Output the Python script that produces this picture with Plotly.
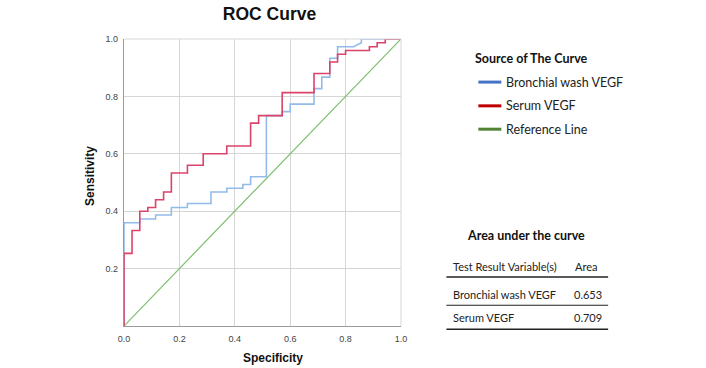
import plotly.graph_objects as go

# ---------------- data ----------------
bronchial_x = [0, 0, 0.057, 0.057, 0.114, 0.114, 0.171, 0.171, 0.229, 0.229, 0.314, 0.314,
               0.371, 0.371, 0.429, 0.429, 0.457, 0.457, 0.514, 0.514, 0.571, 0.571, 0.6, 0.6,
               0.686, 0.686, 0.714, 0.714, 0.743, 0.743, 0.771, 0.771, 0.829, 0.857, 0.857, 1]
bronchial_y = [0, 0.36, 0.36, 0.373, 0.373, 0.387, 0.387, 0.413, 0.413, 0.427, 0.427, 0.467,
               0.467, 0.48, 0.48, 0.493, 0.493, 0.52, 0.52, 0.733, 0.733, 0.747, 0.747, 0.773,
               0.773, 0.827, 0.827, 0.867, 0.867, 0.933, 0.933, 0.973, 0.973, 0.987, 1, 1]

serum_x = [0, 0, 0.029, 0.029, 0.057, 0.057, 0.086, 0.086, 0.114, 0.114, 0.143, 0.143,
           0.171, 0.171, 0.229, 0.229, 0.286, 0.286, 0.371, 0.371, 0.457, 0.457, 0.486, 0.486,
           0.571, 0.571, 0.686, 0.686, 0.743, 0.743, 0.771, 0.771, 0.8, 0.8, 0.886, 0.886,
           0.914, 0.914, 0.943, 0.943, 1]
serum_y = [0, 0.253, 0.253, 0.333, 0.333, 0.4, 0.4, 0.413, 0.413, 0.44, 0.44, 0.467,
           0.467, 0.533, 0.533, 0.56, 0.56, 0.6, 0.6, 0.627, 0.627, 0.707, 0.707, 0.733,
           0.733, 0.813, 0.813, 0.88, 0.88, 0.92, 0.92, 0.947, 0.947, 0.96, 0.96, 0.973,
           0.973, 0.987, 0.987, 1, 1]

reference_x = [0, 1]
reference_y = [0, 1]

series_names = ["Bronchial wash VEGF", "Serum VEGF", "Reference Line"]
x_tick_vals = [0, 0.2, 0.4, 0.6, 0.8, 1.0]
x_tick_text = ["0.0", "0.2", "0.4", "0.6", "0.8", "1.0"]
y_tick_vals = [0.2, 0.4, 0.6, 0.8, 1.0]
y_tick_text = ["0.2", "0.4", "0.6", "0.8", "1.0"]

table_header = ["Test Result Variable(s)", "Area"]
table_rows = ["Bronchial wash VEGF", "Serum VEGF"]
table_areas = ["0.653", "0.709"]

# ---------------- styles ----------------
curve_colors = ["#93bbea", "#dc4369", "#7dbf6c"]
legend_colors = ["#4472c4", "#c00000", "#548235"]
FONT = "Liberation Sans, Arial, sans-serif"
SIDE_FONT = "Lato, Liberation Sans, sans-serif"

fig = go.Figure()
fig.add_trace(go.Scatter(x=reference_x, y=reference_y, mode="lines",
                         line=dict(color=curve_colors[2], width=1.2),
                         name=series_names[2], showlegend=False, hoverinfo="skip"))
fig.add_trace(go.Scatter(x=bronchial_x, y=bronchial_y, mode="lines",
                         line=dict(color=curve_colors[0], width=1.6),
                         name=series_names[0], showlegend=False))
fig.add_trace(go.Scatter(x=serum_x, y=serum_y, mode="lines",
                         line=dict(color=curve_colors[1], width=1.6),
                         name=series_names[1], showlegend=False))

W, H = 706, 368
PL, PR, PT, PB = 124, 401.5, 39.3, 325.7   # plot area in pixels
L, R, T, B = PL, W - PR, PT, H - PB


def px_x(px):
    return (px - PL) / (PR - PL)


def px_y(py):
    return (PB - py) / (PB - PT)


fig.update_layout(
    width=W, height=H,
    margin=dict(l=L, r=R, t=T, b=B, pad=0),
    paper_bgcolor="white", plot_bgcolor="white",
    font=dict(family=FONT, color="#333333"),
    title=dict(text="<b>ROC Curve</b>", x=269.5 / W, xanchor="center",
               y=1 - 13.5 / H, yanchor="middle",
               font=dict(size=17.5, color="#111111", family=FONT)),
    xaxis=dict(range=[0, 1], tickvals=x_tick_vals, ticktext=x_tick_text,
               showgrid=True, gridcolor="#d6d6d6", gridwidth=1,
               showline=True, linecolor="#9a9a9a", linewidth=1.2,
               zeroline=False, ticks="", ticklabelstandoff=4,
               tickfont=dict(size=9, color="#444444")),
    yaxis=dict(range=[0, 1], tickvals=y_tick_vals, ticktext=y_tick_text,
               showgrid=True, gridcolor="#d6d6d6", gridwidth=1,
               showline=True, linecolor="#9a9a9a", linewidth=1.2,
               zeroline=False, ticks="", ticklabelstandoff=3,
               tickfont=dict(size=9, color="#444444")),
)

# axis titles
fig.add_annotation(xref="paper", yref="paper", x=px_x(273), y=px_y(357.5),
                   xanchor="center", yanchor="middle", showarrow=False,
                   text="<b>Specificity</b>", font=dict(size=12, color="#111111", family=FONT))
fig.add_annotation(xref="paper", yref="paper", x=px_x(90), y=px_y(176),
                   xanchor="center", yanchor="middle", showarrow=False, textangle=-90,
                   text="<b>Sensitivity</b>", font=dict(size=12, color="#111111", family=FONT))

# top / right borders of plot (light gray like grid)
fig.add_shape(type="line", xref="paper", yref="paper", x0=0, x1=1, y0=1, y1=1,
              line=dict(color="#d6d6d6", width=1))
fig.add_shape(type="line", xref="paper", yref="paper", x0=1, x1=1, y0=0, y1=1,
              line=dict(color="#d6d6d6", width=1))

# ---------------- legend (custom) ----------------
fig.add_annotation(xref="paper", yref="paper", x=px_x(474), y=px_y(59),
                   xanchor="left", yanchor="middle", showarrow=False,
                   text="<b>Source of The Curve</b>",
                   font=dict(size=12.5, color="#111111", family=SIDE_FONT))
legend_ys = [82.3, 106, 129.3]
for name, col, ly in zip(series_names, legend_colors, legend_ys):
    fig.add_shape(type="line", xref="paper", yref="paper",
                  x0=px_x(479), x1=px_x(502), y0=px_y(ly), y1=px_y(ly),
                  line=dict(color=col, width=3))
    fig.add_annotation(xref="paper", yref="paper", x=px_x(505), y=px_y(ly),
                       xanchor="left", yanchor="middle", showarrow=False,
                       text=name, font=dict(size=12.5, color="#222222", family=SIDE_FONT))

# ---------------- table (custom) ----------------
fig.add_annotation(xref="paper", yref="paper", x=px_x(527), y=px_y(235),
                   xanchor="center", yanchor="middle", showarrow=False,
                   text="<b>Area under the curve</b>",
                   font=dict(size=12.5, color="#111111", family=SIDE_FONT))
fig.add_annotation(xref="paper", yref="paper", x=px_x(451.5), y=px_y(266),
                   xanchor="left", yanchor="middle", showarrow=False,
                   text=table_header[0], font=dict(size=11, color="#222222", family=SIDE_FONT))
fig.add_annotation(xref="paper", yref="paper", x=px_x(600), y=px_y(266),
                   xanchor="right", yanchor="middle", showarrow=False,
                   text=table_header[1], font=dict(size=11, color="#222222", family=SIDE_FONT))
row_ys = [294, 317.3]
for rname, area, ry in zip(table_rows, table_areas, row_ys):
    fig.add_annotation(xref="paper", yref="paper", x=px_x(451.5), y=px_y(ry),
                       xanchor="left", yanchor="middle", showarrow=False,
                       text=rname, font=dict(size=11, color="#222222", family=SIDE_FONT))
    fig.add_annotation(xref="paper", yref="paper", x=px_x(604.5), y=px_y(ry),
                       xanchor="right", yanchor="middle", showarrow=False,
                       text=area, font=dict(size=11, color="#222222", family=SIDE_FONT))
for ly, lw in [(276.7, 1.5), (305, 1.2), (329, 1.5)]:
    fig.add_shape(type="line", xref="paper", yref="paper",
                  x0=px_x(447), x1=px_x(609), y0=px_y(ly), y1=px_y(ly),
                  line=dict(color="#222222", width=lw))

# remove the default 8px page margin so the figure sits at the window's top-left
fig.write_html("out.html", config={"displayModeBar": False},
               post_script="document.body.style.margin='0';")
